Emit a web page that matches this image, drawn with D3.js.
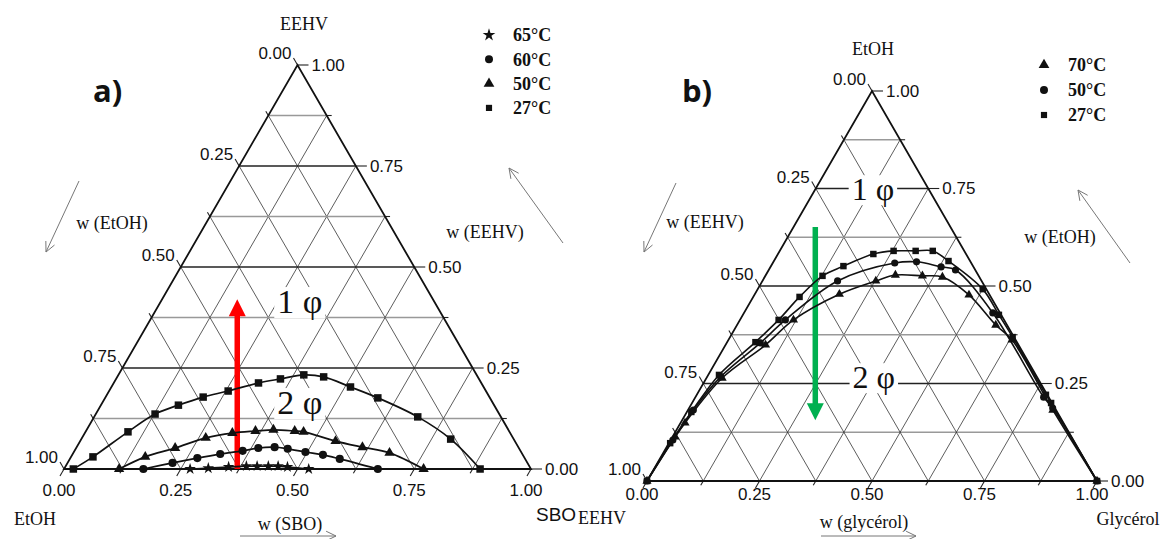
<!DOCTYPE html>
<html>
<head>
<meta charset="utf-8">
<script src="https://cdn.jsdelivr.net/npm/d3@7"></script>
<style>
  body { margin: 0; background: #fff; }
  text { fill: #111; }
  .serif { font-family: "Liberation Serif", "DejaVu Serif", serif; }
  .sans { font-family: "Liberation Sans", Arial, sans-serif; }
</style>
</head>
<body>
<svg id="chart" width="1162" height="539"></svg>
<script>
var width = 1162,
    height = 539,
    divisions = 8;

var tickLabels = ['0.00', '0.25', '0.50', '0.75', '1.00'];

// a) points as [w(SBO), w(EEHV)]
var a65 = [[0.270, 0], [0.308, 0.002], [0.350, 0.005], [0.387, 0.007], [0.410, 0.007],
           [0.434, 0.007], [0.455, 0.007], [0.476, 0.005], [0.524, 0]];
var a60 = [[0.170, 0], [0.225, 0.015], [0.272, 0.027], [0.316, 0.037], [0.360, 0.045],
           [0.390, 0.052], [0.424, 0.054], [0.454, 0.050], [0.496, 0.042], [0.537, 0.035],
           [0.578, 0.025], [0.672, 0]];
var a50 = [[0.118, 0], [0.159, 0.030], [0.212, 0.052], [0.265, 0.077], [0.316, 0.089],
           [0.363, 0.094], [0.400, 0.097], [0.447, 0.094], [0.467, 0.092], [0.547, 0.069],
           [0.612, 0.054], [0.677, 0.040], [0.770, 0]];
var a27 = [[0.020, 0], [0.047, 0.030], [0.091, 0.092], [0.127, 0.136], [0.166, 0.158],
           [0.209, 0.178], [0.255, 0.193], [0.310, 0.213], [0.352, 0.223], [0.397, 0.233],
           [0.442, 0.228], [0.512, 0.203], [0.584, 0.176], [0.693, 0.129], [0.791, 0.074],
           [0.891, 0]];

// b) points as [w(glycérol), w(EtOH)]
var b70 = [[0, 0], [0.006, 0.113], [0.010, 0.149], [0.035, 0.264], [0.089, 0.349],
           [0.119, 0.413], [0.188, 0.479], [0.252, 0.513], [0.288, 0.528], [0.349, 0.526],
           [0.395, 0.523], [0.477, 0.477], [0.575, 0.400], [0.630, 0.362], [0.811, 0.182], [1, 0]];
var b50 = [[0, 0], [0.005, 0.105], [0.012, 0.182], [0.030, 0.267], [0.075, 0.354],
           [0.101, 0.413], [0.167, 0.513], [0.271, 0.559], [0.318, 0.562], [0.379, 0.549],
           [0.415, 0.541], [0.553, 0.431], [0.774, 0.215], [0.808, 0.187], [1, 0]];
var b27 = [[0, 0], [0.003, 0.097], [0.010, 0.177], [0.024, 0.272], [0.063, 0.356],
           [0.086, 0.413], [0.103, 0.472], [0.127, 0.526], [0.161, 0.551], [0.212, 0.582],
           [0.253, 0.590], [0.302, 0.590], [0.340, 0.590], [0.388, 0.564], [0.500, 0.492],
           [0.569, 0.426], [0.628, 0.369], [0.776, 0.221], [0.798, 0.200], [1, 0]];

var legendA = ['65°C', '60°C', '50°C', '27°C'];
var legendB = ['70°C', '50°C', '27°C'];

var svg = d3.select('#chart');

var drawArrowLine = (g, x1, y1, x2, y2) => {
    var a = Math.atan2(y2 - y1, x2 - x1), L = 11;
    g.append('path')
        .attr('d', 'M' + x1 + ',' + y1 + 'L' + x2 + ',' + y2 +
            'M' + (x2 - L * Math.cos(a - 0.45)) + ',' + (y2 - L * Math.sin(a - 0.45)) +
            'L' + x2 + ',' + y2 +
            'L' + (x2 - L * Math.cos(a + 0.45)) + ',' + (y2 - L * Math.sin(a + 0.45)))
        .attr('fill', 'none')
        .attr('stroke', '#777')
        .attr('stroke-width', 1);
}

var drawTernary = (cfg) => {
    var g = svg.append('g');
    var x = d3.scaleLinear().domain([0, 1]).range([cfg.x0, cfg.x1]);
    var y = d3.scaleLinear().domain([0, 1]).range([cfg.y0, cfg.y0 - cfg.h]);
    // composition [bottom comp, top comp] -> pixel
    var pt = (d) => [x(d[0] + d[1] / 2), y(d[1])];
    var seg = (p, q, stroke, w) => g.append('line')
        .attr('x1', p[0]).attr('y1', p[1]).attr('x2', q[0]).attr('y2', q[1])
        .attr('stroke', stroke).attr('stroke-width', w);

    // grid
    d3.range(1, divisions).forEach((i) => {
        var k = i / divisions, major = i % 2 === 0;
        seg(pt([0, 1 - k]), pt([1 - k, 0]), '#333', 0.8);
        seg(pt([k, 0]), pt([k, 1 - k]), '#333', 0.8);
        seg(pt([0, k]), pt([1 - k, k]), major ? '#222' : '#999', 1.3);
    });

    // ticks and labels
    d3.range(0, divisions + 1).forEach((i) => {
        var k = i / divisions, major = i % 2 === 0;
        var Lr = major ? 11 : 5, L = major ? 8 : 5;
        var pr = pt([1 - k, k]);
        seg(pr, [pr[0] + Lr, pr[1]], '#222', 1.1);
        var pl = pt([0, 1 - k]), el = [pl[0] - 0.5 * L, pl[1] - 0.866 * L];
        seg(pl, el, '#222', 1.1);
        var pb = pt([k, 0]), eb = [pb[0] - 0.5 * L, pb[1] + 0.866 * L];
        seg(pb, eb, '#222', 1.1);
        if (major) {
            var lab = tickLabels[i / 2];
            g.append('text').attr('class', 'sans').attr('font-size', 17)
                .attr('x', pr[0] + Lr + 3).attr('y', pr[1]).attr('dy', '0.35em').text(lab);
            g.append('text').attr('class', 'sans').attr('font-size', 17)
                .attr('text-anchor', 'end')
                .attr('x', el[0] - 2).attr('y', el[1] + 1).text(lab);
            g.append('text').attr('class', 'sans').attr('font-size', 17)
                .attr('text-anchor', 'middle')
                .attr('x', eb[0] - 1).attr('y', cfg.y0 + cfg.bottomGap).text(lab);
        }
    });

    // outline
    g.append('path')
        .attr('d', d3.line()([pt([0, 0]), pt([1, 0]), pt([0, 1])]) + 'Z')
        .attr('fill', 'none').attr('stroke', '#111').attr('stroke-width', 1.8);

    // phase labels with white background
    cfg.phases.forEach((p) => {
        var t = g.append('text').attr('class', 'serif')
            .attr('font-size', p.size).attr('text-anchor', 'middle')
            .attr('x', x(p.at[0])).attr('y', y(p.at[1])).text(p.text);
        var bb = t.node().getBBox();
        g.insert('rect', function() { return t.node(); })
            .attr('x', bb.x - 3).attr('y', bb.y + 4)
            .attr('width', bb.width + 6).attr('height', bb.height - 6)
            .attr('fill', '#fff');
    });

    // arrow
    var ar = cfg.arrow, ax = x(ar.at), ay1 = y(ar.from), ay2 = y(ar.to);
    var dir = ay2 < ay1 ? 1 : -1, hl = 17, hw = 8.5;
    g.append('line')
        .attr('x1', ax).attr('y1', ay1).attr('x2', ax).attr('y2', ay2 + dir * (hl - 1))
        .attr('stroke', ar.color).attr('stroke-width', 5.5);
    g.append('path')
        .attr('d', 'M' + ax + ',' + ay2 + 'L' + (ax - hw) + ',' + (ay2 + dir * hl) +
            'L' + (ax + hw) + ',' + (ay2 + dir * hl) + 'Z')
        .attr('fill', ar.color);

    // binodal curves
    var line = d3.line().curve(d3.curveCatmullRom.alpha(0.5));
    cfg.series.forEach((s) => {
        g.append('path').attr('d', line(s.data.map(pt)))
            .attr('fill', 'none').attr('stroke', '#111').attr('stroke-width', cfg.lw);
        g.selectAll(null).data(s.data).enter().append('path')
            .attr('d', d3.symbol().type(s.type).size(s.size))
            .attr('transform', (d) => 'translate(' + pt(d) + ')')
            .attr('fill', '#111');
    });

    // legend
    cfg.legend.labels.forEach((lab, i) => {
        var ly = cfg.legend.y + i * cfg.legend.step;
        g.append('path')
            .attr('d', d3.symbol().type(cfg.series[i].type).size(cfg.legend.sizes[i]))
            .attr('transform', 'translate(' + cfg.legend.x + ',' + ly + ')')
            .attr('fill', '#111');
        g.append('text').attr('class', 'serif').attr('font-size', 18)
            .attr('font-weight', 'bold')
            .attr('x', cfg.legend.x + 24).attr('y', ly).attr('dy', '0.35em').text(lab);
    });
    return g;
}

var ga = drawTernary({
    x0: 64, x1: 531, y0: 469, h: 404, lw: 1.7, bottomGap: 27,
    series: [
        {data: a65, type: d3.symbolStar, size: 42},
        {data: a60, type: d3.symbolCircle, size: 52},
        {data: a50, type: d3.symbolTriangle, size: 46},
        {data: a27, type: d3.symbolSquare, size: 56}
    ],
    legend: {labels: legendA, x: 489, y: 35, step: 24.3, sizes: [50, 50, 50, 38]},
    phases: [{text: '1 φ', at: [0.505, 0.386], size: 34}, {text: '2 φ', at: [0.505, 0.136], size: 34}],
    arrow: {at: 0.371, from: 0, to: 0.42, color: '#ff0000'}
});

var gb = drawTernary({
    x0: 647, x1: 1097, y0: 481, h: 390, lw: 1.6, bottomGap: 19,
    series: [
        {data: b70, type: d3.symbolTriangle, size: 36},
        {data: b50, type: d3.symbolCircle, size: 40},
        {data: b27, type: d3.symbolSquare, size: 42}
    ],
    legend: {labels: legendB, x: 1044, y: 65, step: 25, sizes: [50, 50, 38]},
    phases: [{text: '1 φ', at: [0.502, 0.72], size: 32}, {text: '2 φ', at: [0.504, 0.238], size: 32}],
    arrow: {at: 0.374, from: 0.651, to: 0.156, color: '#00b050'}
});

// vertex and axis titles
var titles = [
    {t: 'EEHV', x: 304, y: 30, cls: 'serif', s: 18, a: 'middle'},
    {t: 'EtOH', x: 35, y: 525, cls: 'serif', s: 18, a: 'middle'},
    {t: 'SBO', x: 536, y: 521, cls: 'sans', s: 19, a: 'start'},
    {t: 'w (EtOH)', x: 112, y: 229, cls: 'serif', s: 18, a: 'middle'},
    {t: 'w (EEHV)', x: 485, y: 238, cls: 'serif', s: 18, a: 'middle'},
    {t: 'w (SBO)', x: 290, y: 530, cls: 'serif', s: 18, a: 'middle'},
    {t: 'EtOH', x: 873, y: 55, cls: 'serif', s: 18, a: 'middle'},
    {t: 'EEHV', x: 602, y: 524, cls: 'serif', s: 18, a: 'middle'},
    {t: 'Glycérol', x: 1128, y: 525, cls: 'serif', s: 18, a: 'middle'},
    {t: 'w (EEHV)', x: 705, y: 228, cls: 'serif', s: 18, a: 'middle'},
    {t: 'w (EtOH)', x: 1060, y: 243, cls: 'serif', s: 18, a: 'middle'},
    {t: 'w (glycérol)', x: 864, y: 528, cls: 'serif', s: 18, a: 'middle'}
];
svg.selectAll('.title').data(titles).enter().append('text')
    .attr('class', (d) => 'title ' + d.cls)
    .attr('x', (d) => d.x).attr('y', (d) => d.y)
    .attr('font-size', (d) => d.s).attr('text-anchor', (d) => d.a)
    .text((d) => d.t);

var panelLabels = [{t: 'a)', x: 93}, {t: 'b)', x: 682}];
svg.selectAll('.panel').data(panelLabels).enter().append('text')
    .attr('class', 'panel')
    .attr('x', (d) => d.x).attr('y', 102)
    .attr('font-family', '"Open Sans", sans-serif').attr('font-weight', 'bold')
    .attr('font-size', 31).text((d) => d.t);

var pointers = [
    [79, 181, 46, 252], [563, 243, 509, 168], [240, 536, 336, 536],
    [676, 183, 644, 252], [1130, 263, 1078, 190], [821, 536, 916, 536]
];
var gp = svg.append('g');
pointers.forEach((p) => drawArrowLine(gp, p[0], p[1], p[2], p[3]));
</script>
</body>
</html>
